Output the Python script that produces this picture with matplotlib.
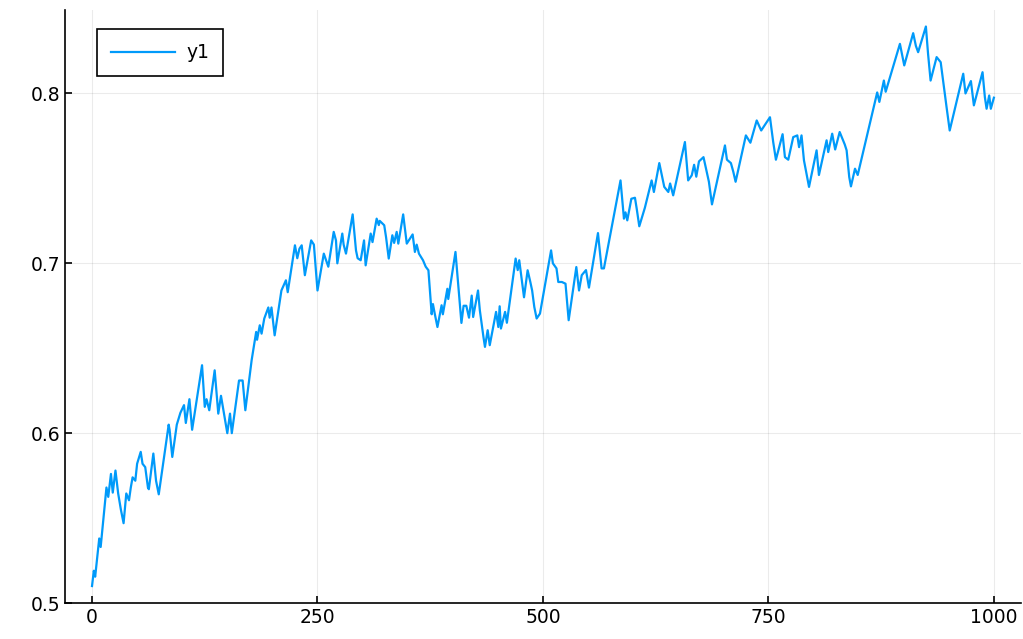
import numpy as np
import matplotlib.pyplot as plt

# points (step index, value)
xs = [0, 2, 3.5, 8, 9.6, 16, 18, 21, 23, 26, 29, 32, 35, 38, 41, 43, 45, 48, 50, 54,
      56, 59, 62, 63, 68, 71, 74, 85, 86, 89, 94, 98, 102, 104, 108, 111, 122, 125, 127, 130,
      136, 140, 143, 150, 153, 155, 163, 167, 170, 177, 182, 183, 186, 188, 191, 195.5, 197, 199, 202.5,
      210, 215, 217, 225, 227.6, 230, 232.5, 236, 243, 246, 250, 257, 262, 268, 270.5, 272,
      277.5, 279, 281.6, 289, 292.7, 294.5, 297.9, 301.6, 303.4, 309, 311, 315.6, 318, 319, 324,
      326, 329, 333, 335, 337.8, 339.6, 345, 349, 355.5, 358, 360, 362.5, 367, 370, 373,
      376.6, 378, 380, 383, 387.6, 389, 394, 395, 403, 409.6, 412, 415, 418, 421, 422.6,
      428, 430, 434, 435.7, 438.7, 441, 448, 450.5, 452, 453.4, 458, 460, 469.7, 472, 473.7,
      479, 483, 486, 488, 490.4, 493, 496.7, 509, 511, 515, 517, 521, 525, 528.5, 537,
      540, 543, 547.7, 551, 561, 565, 567.6, 586, 589.8, 591.5, 593.5, 598, 602, 604,
      606.8, 613, 620.5, 623, 629, 631, 634.5, 639, 641, 644.4, 657.4, 661, 665, 667.6,
      670, 673, 678, 684, 687.4, 701.8, 704, 708.4, 711, 713.6, 725, 730, 737, 742,
      751.7, 755.3, 758.3, 765.7, 768.3, 772, 777.5, 782, 784, 786.7, 789.4, 795, 803.4, 806,
      814.5, 816.3, 820.7, 824, 829, 834.6, 836.7, 839.6, 841.5, 846, 849, 870.6, 873, 878,
      880, 895.8, 900.6, 910.5, 913.5, 916, 924.6, 927, 929.8, 936.5, 941, 944.6, 947.5, 951,
      966, 968.5, 974.5, 977.8, 987.4, 990, 991.9, 994.8, 996.6, 1000]
ys = [0.510, 0.519, 0.5155, 0.538, 0.533, 0.568, 0.5625, 0.576, 0.565, 0.578, 0.5645, 0.555, 0.547, 0.5645, 0.5605, 0.568, 0.574, 0.572, 0.582, 0.589,
      0.582, 0.580, 0.568, 0.567, 0.588, 0.572, 0.564, 0.605, 0.602, 0.586, 0.605, 0.612, 0.6165, 0.606, 0.620, 0.602, 0.640, 0.6155, 0.620, 0.6135,
      0.637, 0.6115, 0.622, 0.600, 0.6115, 0.600, 0.631, 0.631, 0.6135, 0.643, 0.6596, 0.655, 0.6635, 0.6586, 0.6675, 0.674, 0.668, 0.674, 0.6576,
      0.684, 0.690, 0.683, 0.7106, 0.703, 0.7086, 0.7106, 0.693, 0.7135, 0.711, 0.684, 0.7057, 0.698, 0.7185, 0.7135, 0.700,
      0.7175, 0.711, 0.7057, 0.7288, 0.7076, 0.703, 0.7018, 0.7135, 0.6988, 0.7175, 0.7125, 0.7263, 0.7225, 0.725, 0.7224,
      0.7155, 0.7028, 0.7165, 0.712, 0.7185, 0.7116, 0.7288, 0.7116, 0.717, 0.7067, 0.711, 0.7057, 0.7018, 0.698, 0.6959,
      0.670, 0.676, 0.6704, 0.6625, 0.6753, 0.670, 0.685, 0.679, 0.7067, 0.6649, 0.675, 0.675, 0.668, 0.681, 0.6684,
      0.684, 0.6724, 0.6567, 0.6508, 0.6606, 0.6518, 0.6714, 0.6625, 0.6747, 0.6616, 0.6714, 0.665, 0.7028, 0.696, 0.7018,
      0.680, 0.6959, 0.689, 0.684, 0.6743, 0.6675, 0.6704, 0.7076, 0.700, 0.697, 0.689, 0.689, 0.688, 0.6665, 0.6978,
      0.684, 0.693, 0.696, 0.6857, 0.7178, 0.697, 0.697, 0.7488, 0.7263, 0.730, 0.7253, 0.738, 0.7386, 0.732,
      0.7218, 0.7327, 0.7488, 0.742, 0.759, 0.754, 0.745, 0.742, 0.747, 0.740, 0.7714, 0.7488, 0.7518, 0.758,
      0.751, 0.760, 0.7625, 0.748, 0.7347, 0.7694, 0.761, 0.759, 0.754, 0.748, 0.7753, 0.771, 0.7841, 0.7782,
      0.786, 0.7714, 0.761, 0.776, 0.7625, 0.761, 0.7743, 0.7753, 0.7684, 0.7753, 0.7606, 0.745, 0.7665, 0.752,
      0.7724, 0.7655, 0.7763, 0.767, 0.7773, 0.770, 0.7665, 0.7508, 0.7453, 0.7557, 0.752, 0.8006, 0.795, 0.8076,
      0.801, 0.8292, 0.8165, 0.8355, 0.828, 0.8243, 0.8394, 0.8233, 0.8076, 0.8214, 0.8184, 0.8037, 0.792, 0.7782,
      0.8116, 0.800, 0.8073, 0.793, 0.8125, 0.7978, 0.791, 0.7988, 0.791, 0.7975]

xticks = [0, 250, 500, 750, 1000]
yticks = [0.5, 0.6, 0.7, 0.8]

fig = plt.figure(figsize=(10.23, 6.39), dpi=100)
ax = fig.add_axes([0.0635, 0.0563, 0.9345, 0.9277])
ax.plot(xs, ys, color='#009AFA', lw=1.6, label='y1')

ax.set_xlim(-30, 1030)
ax.set_ylim(0.5, 0.849)
ax.set_xticks(xticks)
ax.set_xticklabels([str(t) for t in xticks])
ax.set_yticks(yticks)
ax.set_yticklabels([str(t) for t in yticks])
ax.grid(True, color='black', alpha=0.08, lw=0.8)
for s in ['top', 'right']:
    ax.spines[s].set_visible(False)
for s in ['left', 'bottom']:
    ax.spines[s].set_linewidth(1.2)
ax.tick_params(direction='in', length=5, width=1.2, labelsize=13.5)

leg = ax.legend(loc='upper left', fontsize=13.5, fancybox=False, framealpha=1,
                edgecolor='black', handlelength=3.4, handletextpad=0.6,
                borderpad=0.75, borderaxespad=0,
                bbox_to_anchor=(0.0335, 0.968))
leg.get_frame().set_linewidth(1.2)

fig.savefig('out.png', dpi=100)
